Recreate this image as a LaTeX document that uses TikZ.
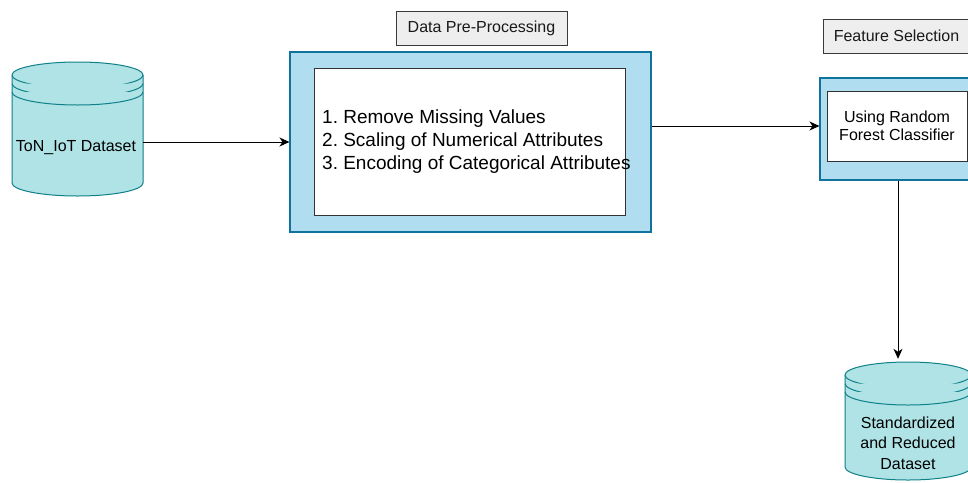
\documentclass[tikz,border=0pt]{standalone}
\usepackage{fontspec}
\setmainfont{Liberation Sans}
\usetikzlibrary{arrows.meta,calc}

\definecolor{cylfill}{HTML}{B0E3E6}
\definecolor{cylline}{HTML}{0E8088}
\definecolor{boxfill}{HTML}{B1DDF0}
\definecolor{boxline}{HTML}{10739E}
\definecolor{tagfill}{HTML}{EEEEEE}
\definecolor{tagline}{HTML}{36393D}

% Data-store cylinder: #1 name, #2 centre x, #3 top y, #4 bottom y, #5 half width, #6 cap radius
\newcommand\dstore[6]{%
  \pgfmathsetmacro\dsL{#2-#5}%
  \pgfmathsetmacro\dsR{#2+#5}%
  \pgfmathsetmacro\dsT{#3+#6}%
  \pgfmathsetmacro\dsB{#4-#6}%
  \pgfmathsetmacro\dsW{2*#5}%
  \pgfmathsetmacro\dsH{#4-#3}%
  \pgfmathsetmacro\dsM{(#3+#4)/2}%
  \filldraw[cylstyle] (\dsL,\dsT) -- (\dsL,\dsB)
    arc[start angle=180,end angle=360,x radius=#5pt,y radius=#6pt]
    -- (\dsR,\dsT)
    arc[start angle=0,end angle=180,x radius=#5pt,y radius=#6pt] -- cycle;
  \foreach \k in {0,8.5,17}{
    \draw[cylstyle] (\dsL,\dsT+\k) arc[start angle=180,end angle=360,x radius=#5pt,y radius=#6pt];
  }
  \node[inner sep=0pt,minimum width=\dsW pt,minimum height=\dsH pt] (#1) at (#2,\dsM) {};
}

\tikzset{
  cylstyle/.style={draw=cylline,fill=cylfill,line width=1pt},
  outerbox/.style={draw=boxline,fill=boxfill,line width=1.1pt,inner sep=0pt},
  innerbox/.style={draw=black!80,fill=white,line width=1pt,inner sep=0pt},
  tagbox/.style={draw=tagline,fill=tagfill,line width=1pt,inner sep=0pt,
    font=\fontsize{16}{19}\selectfont,text=black!90},
  link/.style={draw=black,line width=1pt,-{Stealth[length=10pt,width=9pt,inset=3pt]}},
}

\begin{document}
\frenchspacing
\begin{tikzpicture}[x=1pt,y=-1pt]
  \clip (0,0) rectangle (968,482);
  \fill[white] (0,0) rectangle (968,482);

  % input data store
  \dstore{cyl1}{77.5}{62}{196}{65.5}{13}
  \node[font=\fontsize{16}{19}\selectfont] (cyl1txt) at (76,148) {ToN\_IoT Dataset};

  % pre-processing stage
  \node[tagbox,minimum width=171pt,minimum height=34pt] (tag1) at (481.5,28) {Data Pre-Processing};
  \node[outerbox,minimum width=361pt,minimum height=180pt] (pre) at (470.5,142) {};
  \node[innerbox,minimum width=311pt,minimum height=147pt] (preIn) at (469.5,141.5) {};
  \node[anchor=west,align=left,inner sep=0pt,font=\fontsize{19}{23}\selectfont] (steps) at (322,142)
    {1. Remove Missing Values\\2. Scaling of Numerical Attributes\\3. Encoding of Categorical Attributes};

  % feature selection stage
  \node[tagbox,minimum width=147pt,minimum height=34pt] (tag2) at (896.5,36) {Feature Selection};
  \node[outerbox,minimum width=156pt,minimum height=102pt] (fs) at (898,129) {};
  \node[innerbox,minimum width=140pt,minimum height=70pt,align=center,
        font=\fontsize{16}{18.5}\selectfont] (fsIn) at (897,126) {Using Random\\Forest Classifier};

  % output data store
  \dstore{cyl2}{908}{362}{480}{63}{13}
  \node[align=center,font=\fontsize{16}{20.5}\selectfont] (cyl2txt) at (908,443)
    {Standardized\\and Reduced\\Dataset};

  % connectors
  \draw[link] (cyl1.east |- pre.west) -- (pre.west);
  \draw[link] (pre.east |- fsIn.west) -- (fs.west |- fsIn.west);
  \draw[link,shorten >=3pt] (fs.south) -- (fs.south |- cyl2.north);
\end{tikzpicture}
\end{document}
